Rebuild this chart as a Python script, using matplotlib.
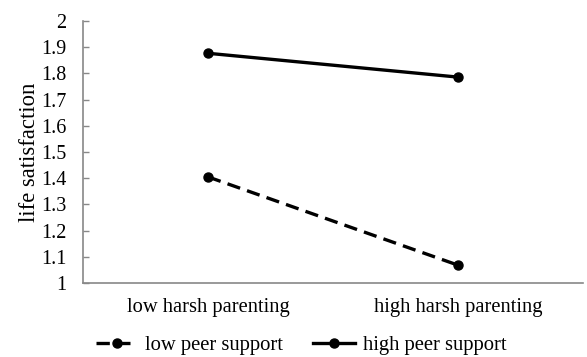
import matplotlib
matplotlib.use("Agg")
import matplotlib.pyplot as plt

# chart data
categories = ['low harsh parenting', 'high harsh parenting']
low_peer = [1.405, 1.068]
high_peer = [1.877, 1.786]
series_labels = ['low peer support', 'high peer support']

plt.rcParams['font.family'] = ['Liberation Serif', 'DejaVu Serif']

fig = plt.figure(figsize=(5.87, 3.57), dpi=100)
ax = fig.add_axes([0.1414, 0.2073, 0.852, 0.7337])

x = [0.5, 1.5]
ax.plot(x, low_peer, color='black', lw=2.4, ls=(0, (4, 2.2)), marker='o', ms=6.5,
        label=series_labels[0])
ax.plot(x, high_peer, color='black', lw=2.4, ls='-', marker='o', ms=6.5,
        label=series_labels[1])

ax.set_xlim(0, 2)
ax.set_ylim(1, 2)
ax.set_xticks(x)
ax.set_xticklabels(categories)
ax.set_yticks([1 + i * 0.1 for i in range(11)])
ax.set_yticklabels(['1', '1.1', '1.2', '1.3', '1.4', '1.5', '1.6', '1.7', '1.8', '1.9', '2'])
ax.tick_params(axis='y', labelsize=14.5, color='#888888', direction='in',
               length=4, width=1, pad=12)
ax.tick_params(axis='x', labelsize=14.8, length=0, pad=11)

for side in ['top', 'right']:
    ax.spines[side].set_visible(False)
for side in ['left', 'bottom']:
    ax.spines[side].set_color('#888888')
    ax.spines[side].set_linewidth(1.2)

ax.set_ylabel('life satisfaction', fontsize=16.3, labelpad=1)

fig.legend(loc='center', bbox_to_anchor=(0.513, 0.033), ncol=2, frameon=False,
           fontsize=14.9, handlelength=2.0, handletextpad=0.38, columnspacing=1.45,
           borderpad=0.1)

fig.savefig('out.png', dpi=100)
